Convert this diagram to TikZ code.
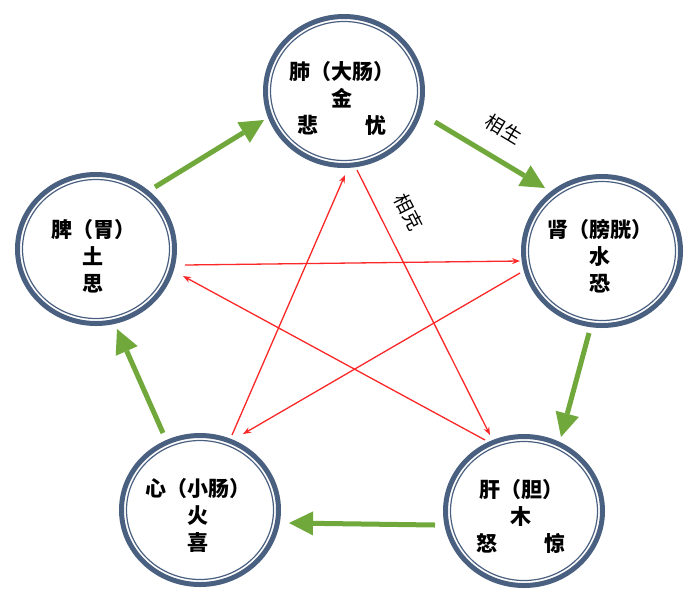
\documentclass[tikz,border=0pt]{standalone}
\usepackage{fontspec}
\setmainfont{Noto Sans CJK SC}
\usetikzlibrary{arrows.meta,shapes.geometric}
\definecolor{ring}{RGB}{74,96,128}
\definecolor{sheng}{RGB}{112,168,60}
\definecolor{ke}{RGB}{250,40,40}
\begin{document}
\begin{tikzpicture}[x=1pt,y=1pt,
  organ/.style={ellipse,draw=ring,line width=5pt,minimum width=157pt,minimum height=149pt,inner sep=0pt},
  innerring/.style={ellipse,draw=ring,line width=1.2pt,minimum width=147pt,minimum height=139pt,inner sep=0pt},
  organtext/.style={align=center,inner sep=0pt,font=\fontsize{21}{27}\selectfont\bfseries},
  shengarrow/.style={draw=sheng,line width=5pt,-{Triangle[length=24pt,width=24pt,line width=0pt]}},
  kearrow/.style={draw=ke,line width=1.3pt,-{Stealth[length=8pt,width=6pt]}},
  rel/.style={inner sep=1pt,font=\fontsize{19}{19}\selectfont}]
\useasboundingbox[fill=white] (0,0) rectangle (700,-603);

% organs
\node[organ] (M) at (344,-91) {};
\node[innerring] (Mi) at (M) {};
\node[organtext] (Mt) at (342,-98) {肺（大肠）\\金\\悲\hspace{2.2em}忧};

\node[organ] (S) at (96,-249) {};
\node[innerring] (Si) at (S) {};
\node[organtext] (St) at (93,-256) {脾（胃）\\土\\思};

\node[organ] (K) at (602,-251) {};
\node[innerring] (Ki) at (K) {};
\node[organtext] (Kt) at (600,-256) {肾（膀胱）\\水\\恐};

\node[organ] (H) at (200,-510) {};
\node[innerring] (Hi) at (H) {};
\node[organtext] (Ht) at (198,-515) {心（小肠）\\火\\喜};

\node[organ] (L) at (524,-511) {};
\node[innerring] (Li) at (L) {};
\node[organtext] (Lt) at (521,-516) {肝（胆）\\木\\怒\hspace{2.2em}惊};

% generating cycle endpoints
\coordinate (sm1) at (155,-187); \coordinate (sm2) at (264,-120);
\coordinate (mk1) at (435,-122); \coordinate (mk2) at (545,-188);
\coordinate (kl1) at (589,-333); \coordinate (kl2) at (561,-437);
\coordinate (lh1) at (435,-525); \coordinate (lh2) at (289,-523);
\coordinate (hs1) at (163,-433); \coordinate (hs2) at (117,-329);

\draw[shengarrow] (sm1) -- (sm2);
\draw[shengarrow] (mk1) -- (mk2);
\draw[shengarrow] (kl1) -- (kl2);
\draw[shengarrow] (lh1) -- (lh2);
\draw[shengarrow] (hs1) -- (hs2);

% controlling cycle endpoints
\coordinate (ml1) at (357,-170); \coordinate (ml2) at (490,-435);
\coordinate (ls1) at (485,-440); \coordinate (ls2) at (183,-276);
\coordinate (sk1) at (185,-265); \coordinate (sk2) at (520,-261);
\coordinate (kh1) at (520,-273); \coordinate (kh2) at (243,-434);
\coordinate (hm1) at (232,-435); \coordinate (hm2) at (345,-175);

\draw[kearrow] (ml1) -- (ml2);
\draw[kearrow] (ls1) -- (ls2);
\draw[kearrow] (sk1) -- (sk2);
\draw[kearrow] (kh1) -- (kh2);
\draw[kearrow] (hm1) -- (hm2);

% labels
\node[rel,rotate=-31] (lsheng) at (504,-129) {相生};
\node[rel,rotate=-63] (lke) at (409,-212) {相克};
\end{tikzpicture}
\end{document}
